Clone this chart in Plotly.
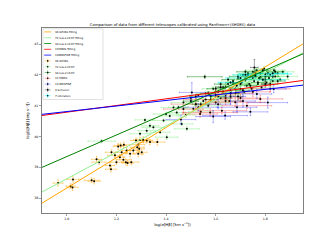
import plotly.graph_objects as go
import numpy as np

# ---------------- data ----------------
# fit lines: y = slope * x + intercept
fit_names = ["36 GHIIRs fitting", "72 low-z&lt;0.07 fitting", "34 low-z&gt;0.07 fitting",
             "15KMOS fitting", "13MOSFIRE fitting"]
fit_slopes = [4.91, 4.29, 3.50, 1.08, 0.90]
fit_intercepts = [33.42, 34.34, 35.85, 39.71, 39.91]
fit_colors = ["#FFA500", "#90EE90", "#008000", "#FF0000", "#0000FF"]

ghiir_x = [0.965, 1.025, 1.015, 1.023, 1.10, 1.11, 1.12, 1.13, 1.178, 1.174, 1.18, 1.194,
           1.207, 1.217, 1.228, 1.238, 1.245, 1.26, 1.255, 1.268, 1.284, 1.292, 1.279, 1.295,
           1.308, 1.322, 1.335, 1.288, 1.302, 1.23, 1.241, 1.221, 1.214, 1.365, 1.20, 1.288]
ghiir_y = [38.49, 38.61, 38.39, 38.35, 38.58, 38.55, 39.26, 39.17, 38.94, 39.06, 39.49, 39.39,
           39.68, 39.71, 39.25, 39.17, 39.14, 39.17, 39.44, 39.55, 39.65, 39.60, 39.87, 39.89,
           39.89, 39.87, 39.82, 39.44, 39.49, 39.73, 39.55, 39.49, 39.33, 39.82, 39.17, 39.74]
ghiir_xerr = [0.020, 0.025, 0.018, 0.022, 0.030, 0.025, 0.020, 0.028, 0.022, 0.018, 0.025, 0.030,
              0.020, 0.024, 0.026, 0.018, 0.022, 0.030, 0.020, 0.025, 0.028, 0.020, 0.022, 0.026,
              0.030, 0.024, 0.028, 0.020, 0.022, 0.025, 0.018, 0.024, 0.020, 0.030, 0.022, 0.026]
ghiir_yerr = [0.10, 0.09, 0.08, 0.10, 0.08, 0.09, 0.10, 0.08, 0.09, 0.10, 0.08, 0.09,
              0.10, 0.08, 0.09, 0.10, 0.08, 0.09, 0.10, 0.08, 0.09, 0.10, 0.08, 0.09,
              0.10, 0.08, 0.09, 0.10, 0.08, 0.09, 0.10, 0.08, 0.09, 0.10, 0.08, 0.09]

lowz1_x = [1.14, 1.315, 1.335, 1.39, 1.40, 1.415, 1.443, 1.463, 1.484, 1.376, 1.349, 1.322,
           1.295, 1.43, 1.403,
           1.45, 1.47, 1.48, 1.50, 1.51, 1.52, 1.53, 1.54, 1.55, 1.56, 1.57, 1.58, 1.59, 1.60,
           1.61, 1.62, 1.63, 1.64, 1.65, 1.655, 1.66, 1.67, 1.68, 1.685, 1.69, 1.70, 1.705,
           1.71, 1.715, 1.72, 1.725, 1.73, 1.735, 1.74, 1.745, 1.75, 1.755, 1.76, 1.765, 1.77,
           1.775, 1.78, 1.785, 1.79, 1.795, 1.80, 1.805, 1.81, 1.815, 1.82, 1.83, 1.835, 1.84,
           1.85, 1.86, 1.87, 1.89]
lowz1_y = [39.85, 40.54, 40.35, 40.52, 40.73, 40.67, 40.78, 40.41, 40.25, 40.14, 40.30, 40.19,
           40.09, 40.94, 39.98,
           40.95, 41.10, 40.70, 41.25, 40.90, 41.05, 41.35, 40.80, 41.15, 41.40, 41.00, 41.30,
           41.55, 41.10, 41.45, 41.25, 41.60, 41.35, 41.70, 41.15, 41.50, 41.80, 41.40, 41.65,
           41.90, 41.55, 41.75, 42.00, 41.45, 41.85, 41.65, 42.05, 41.70, 41.95, 41.55, 42.10,
           41.80, 41.95, 42.15, 41.70, 41.90, 42.05, 41.60, 41.85, 42.20, 41.95, 41.75, 42.10,
           41.90, 42.00, 41.80, 42.15, 41.95, 42.05, 41.85, 42.10, 41.95]
lowz1_xerr = [0.055, 0.040, 0.035, 0.045, 0.050, 0.040, 0.035, 0.045, 0.050, 0.040, 0.045, 0.035,
              0.040, 0.050, 0.045,
              0.040, 0.050, 0.035, 0.045, 0.060, 0.040, 0.035, 0.050, 0.045, 0.040, 0.055, 0.035,
              0.045, 0.050, 0.040, 0.035, 0.045, 0.060, 0.040, 0.050, 0.035, 0.045, 0.040, 0.055,
              0.035, 0.045, 0.050, 0.040, 0.035, 0.045, 0.060, 0.040, 0.050, 0.035, 0.045, 0.040,
              0.055, 0.035, 0.045, 0.050, 0.040, 0.035, 0.045, 0.060, 0.040, 0.050, 0.035, 0.045,
              0.040, 0.055, 0.035, 0.045, 0.050, 0.040, 0.035, 0.045, 0.040]
lowz1_yerr = [0.06, 0.05, 0.07, 0.05, 0.06, 0.08, 0.05, 0.06, 0.07, 0.05, 0.06, 0.08,
              0.05, 0.06, 0.07,
              0.05, 0.06, 0.08, 0.05, 0.06, 0.07, 0.05, 0.06, 0.08, 0.05, 0.06, 0.07, 0.05,
              0.06, 0.08, 0.05, 0.06, 0.07, 0.05, 0.06, 0.08, 0.05, 0.06, 0.07, 0.05, 0.06,
              0.08, 0.05, 0.06, 0.07, 0.05, 0.06, 0.08, 0.05, 0.06, 0.07, 0.05, 0.06, 0.08,
              0.05, 0.06, 0.07, 0.05, 0.06, 0.08, 0.05, 0.06, 0.07, 0.05, 0.06, 0.08, 0.05,
              0.06, 0.07, 0.05, 0.06, 0.08]

lowz2_x = [1.50, 1.52, 1.54, 1.556, 1.57, 1.58, 1.60, 1.61, 1.62, 1.63, 1.64, 1.65, 1.66, 1.67,
           1.68, 1.69, 1.70, 1.71, 1.72, 1.73, 1.74, 1.75, 1.76, 1.77, 1.78, 1.79, 1.80, 1.81,
           1.82, 1.83, 1.84, 1.85, 1.64, 1.72]
lowz2_y = [41.15, 41.30, 41.05, 41.94, 41.40, 41.20, 41.55, 41.30, 41.70, 41.45, 41.60, 41.85,
           41.40, 41.75, 41.55, 41.95, 41.70, 41.50, 41.85, 42.00, 41.65, 41.90, 42.05, 41.75,
           41.95, 42.15, 41.85, 42.05, 41.70, 41.95, 42.10, 41.80, 41.25, 42.10]
lowz2_xerr = [0.030, 0.025, 0.035, 0.070, 0.030, 0.025, 0.035, 0.030, 0.025, 0.035, 0.030, 0.025,
              0.035, 0.030, 0.025, 0.035, 0.030, 0.025, 0.035, 0.030, 0.025, 0.035, 0.030, 0.025,
              0.035, 0.030, 0.025, 0.035, 0.030, 0.025, 0.035, 0.030, 0.025, 0.035]
lowz2_yerr = [0.05, 0.06, 0.05, 0.05, 0.06, 0.05, 0.06, 0.05, 0.06, 0.05, 0.06, 0.05,
              0.06, 0.05, 0.06, 0.05, 0.06, 0.05, 0.06, 0.05, 0.06, 0.05, 0.06, 0.05,
              0.06, 0.05, 0.06, 0.05, 0.06, 0.05, 0.06, 0.05, 0.06, 0.05]

kmos_x = [1.47, 1.52, 1.537, 1.56, 1.578, 1.60, 1.625, 1.64, 1.66, 1.679, 1.70, 1.726, 1.75,
          1.78, 1.82]
kmos_y = [40.89, 41.05, 40.73, 41.20, 40.78, 41.35, 40.84, 41.15, 41.40, 41.11, 41.25, 41.00,
          41.45, 41.22, 41.55]
kmos_xerr = [0.08, 0.10, 0.07, 0.09, 0.11, 0.08, 0.10, 0.07, 0.09, 0.12, 0.08, 0.10, 0.07,
             0.09, 0.08]
kmos_yerr = [0.12, 0.15, 0.10, 0.18, 0.12, 0.15, 0.10, 0.12, 0.18, 0.15, 0.12, 0.10, 0.15,
             0.12, 0.10]

mosfire_x = [1.46, 1.504, 1.53, 1.59, 1.61, 1.638, 1.66, 1.686, 1.71, 1.74, 1.766, 1.81, 1.834]
mosfire_y = [40.55, 41.43, 40.95, 40.65, 41.05, 40.68, 41.30, 40.95, 41.15, 40.80, 41.38,
             41.10, 41.54]
mosfire_xerr = [0.06, 0.05, 0.08, 0.07, 0.05, 0.09, 0.06, 0.08, 0.05, 0.07, 0.06, 0.08, 0.05]
mosfire_yerr = [0.15, 0.32, 0.12, 0.20, 0.15, 0.12, 0.25, 0.15, 0.20, 0.12, 0.15, 0.18, 0.12]

schooler_x = [1.756, 1.62, 1.69, 1.80]
schooler_y = [42.24, 41.60, 41.30, 41.70]
schooler_xerr = [0.015, 0.020, 0.020, 0.015]
schooler_yerr = [0.26, 0.10, 0.12, 0.10]

lit_x = [1.72, 1.80, 1.79, 1.76, 1.70, 1.66, 1.83]
lit_y = [42.00, 42.03, 41.84, 41.97, 41.90, 41.75, 42.05]
lit_xerr = [0.05, 0.105, 0.09, 0.07, 0.06, 0.05, 0.06]
lit_yerr = [0.03, 0.03, 0.03, 0.03, 0.03, 0.03, 0.03]

err_names = ["36 GHIIRs", "72 low-z&lt;0.07", "34 low-z&gt;0.07", "15 KMOS", "13 MOSFIRE",
             "4 Schooler", "7 Literature"]
err_colors = ["rgba(255,165,0,0.75)", "rgba(144,238,144,0.9)", "rgba(0,128,0,0.8)",
              "rgba(255,0,0,0.5)", "rgba(0,0,255,0.5)", "rgba(60,60,60,0.8)",
              "rgba(0,255,255,0.9)"]

series = [
    (ghiir_x, ghiir_y, ghiir_xerr, ghiir_yerr),
    (lowz1_x, lowz1_y, lowz1_xerr, lowz1_yerr),
    (lowz2_x, lowz2_y, lowz2_xerr, lowz2_yerr),
    (kmos_x, kmos_y, kmos_xerr, kmos_yerr),
    (mosfire_x, mosfire_y, mosfire_xerr, mosfire_yerr),
    (schooler_x, schooler_y, schooler_xerr, schooler_yerr),
    (lit_x, lit_y, lit_xerr, lit_yerr),
]

x_ticks = [1.0, 1.2, 1.4, 1.6, 1.8]
y_ticks = [38, 39, 40, 41, 42, 43]
X_RANGE = [0.9, 1.952]
Y_RANGE = [37.52, 43.52]

# ---------------- figure ----------------
W, H = 336, 240
ML, MR, MT, MB = 42, 33, 28, 27
PW, PH = W - ML - MR, H - MT - MB

fig = go.Figure()

for (xs, ys, xe, ye), name, col in zip(series, err_names, err_colors):
    fig.add_trace(go.Scatter(
        x=xs, y=ys, mode="markers", name=name, showlegend=False, hoverinfo="skip",
        marker=dict(color="black", size=2),
        error_x=dict(type="data", array=xe, color=col, thickness=0.6, width=0.8),
        error_y=dict(type="data", array=ye, color=col, thickness=0.6, width=0.8),
    ))

xl = np.array(X_RANGE)
for name, a, b, col in zip(fit_names, fit_slopes, fit_intercepts, fit_colors):
    fig.add_trace(go.Scatter(x=xl, y=a * xl + b, mode="lines", name=name, showlegend=False,
                             hoverinfo="skip", line=dict(color=col, width=1)))


def px(xpage):
    return (xpage - ML) / PW


def py(ypage):
    return (H - MB - ypage) / PH


shapes = []
annotations = []
# legend box
shapes.append(dict(type="rect", xref="paper", yref="paper", x0=px(43), x1=px(103),
                   y0=py(99.5), y1=py(28.8), line=dict(color="#cccccc", width=0.6),
                   fillcolor="rgba(255,255,255,0.85)", layer="above"))
row0, dy = 31.9, 5.8
legend_items = [(n, c, "line") for n, c in zip(fit_names, fit_colors)] + \
               [(n, c, "err") for n, c in zip(err_names, err_colors)]
for i, (name, col, kind) in enumerate(legend_items):
    yy = row0 + dy * i
    if kind == "line":
        shapes.append(dict(type="line", xref="paper", yref="paper", x0=px(44.2), x1=px(51.2),
                           y0=py(yy), y1=py(yy), line=dict(color=col, width=0.8), layer="above"))
    else:
        cx = 47.7
        shapes.append(dict(type="line", xref="paper", yref="paper", x0=px(cx - 3), x1=px(cx + 3),
                           y0=py(yy), y1=py(yy), line=dict(color=col, width=0.6), layer="above"))
        shapes.append(dict(type="line", xref="paper", yref="paper", x0=px(cx), x1=px(cx),
                           y0=py(yy - 2.2), y1=py(yy + 2.2), line=dict(color=col, width=0.6),
                           layer="above"))
        shapes.append(dict(type="circle", xref="paper", yref="paper", x0=px(cx - 0.8),
                           x1=px(cx + 0.8), y0=py(yy + 0.8), y1=py(yy - 0.8),
                           fillcolor="black", line=dict(width=0), layer="above"))
    annotations.append(dict(text=name, xref="paper", yref="paper", x=px(53.2), y=py(yy),
                            xanchor="left", yanchor="middle", showarrow=False,
                            font=dict(size=2.7, color="black", family="DejaVu Sans")))

fig.update_layout(
    width=W, height=H,
    margin=dict(l=ML, r=MR, t=MT, b=MB),
    paper_bgcolor="white", plot_bgcolor="white",
    font=dict(family="DejaVu Sans", color="black"),
    title=dict(text="Comparison of data from different telescopes calibrated using Pantheon+(SH0ES) data",
               x=(ML + PW / 2) / W, xanchor="center", y=1 - 24.5 / H, yanchor="middle",
               yref="container", font=dict(size=3.8, color="black")),
    shapes=shapes, annotations=annotations,
    showlegend=False, hovermode=False,
)
fig.update_xaxes(range=X_RANGE, tickvals=x_ticks, ticktext=[f"{v:.1f}" for v in x_ticks],
                 showgrid=False, zeroline=False, showline=True, mirror=True, automargin=False,
                 linecolor="#808080", linewidth=1, ticks="outside", ticklen=2, tickwidth=0.6,
                 tickcolor="#606060", tickfont=dict(size=3.2), title_standoff=3,
                 title=dict(text="log(σ[Hβ] [km s<sup>−1</sup>])", font=dict(size=3.8)))
fig.update_yaxes(range=Y_RANGE, tickvals=y_ticks, ticktext=[str(v) for v in y_ticks],
                 showgrid=False, zeroline=False, showline=True, mirror=True, automargin=False,
                 linecolor="#808080", linewidth=1, ticks="outside", ticklen=2, tickwidth=0.6,
                 tickcolor="#606060", tickfont=dict(size=3.2), title_standoff=4,
                 title=dict(text="log(L[Hβ] [erg s<sup>−1</sup>])", font=dict(size=3.8)))

fig.write_html("out.html", config={"displayModeBar": False, "staticPlot": True},
               post_script="document.body.style.margin='0px';document.body.style.padding='0px';")
